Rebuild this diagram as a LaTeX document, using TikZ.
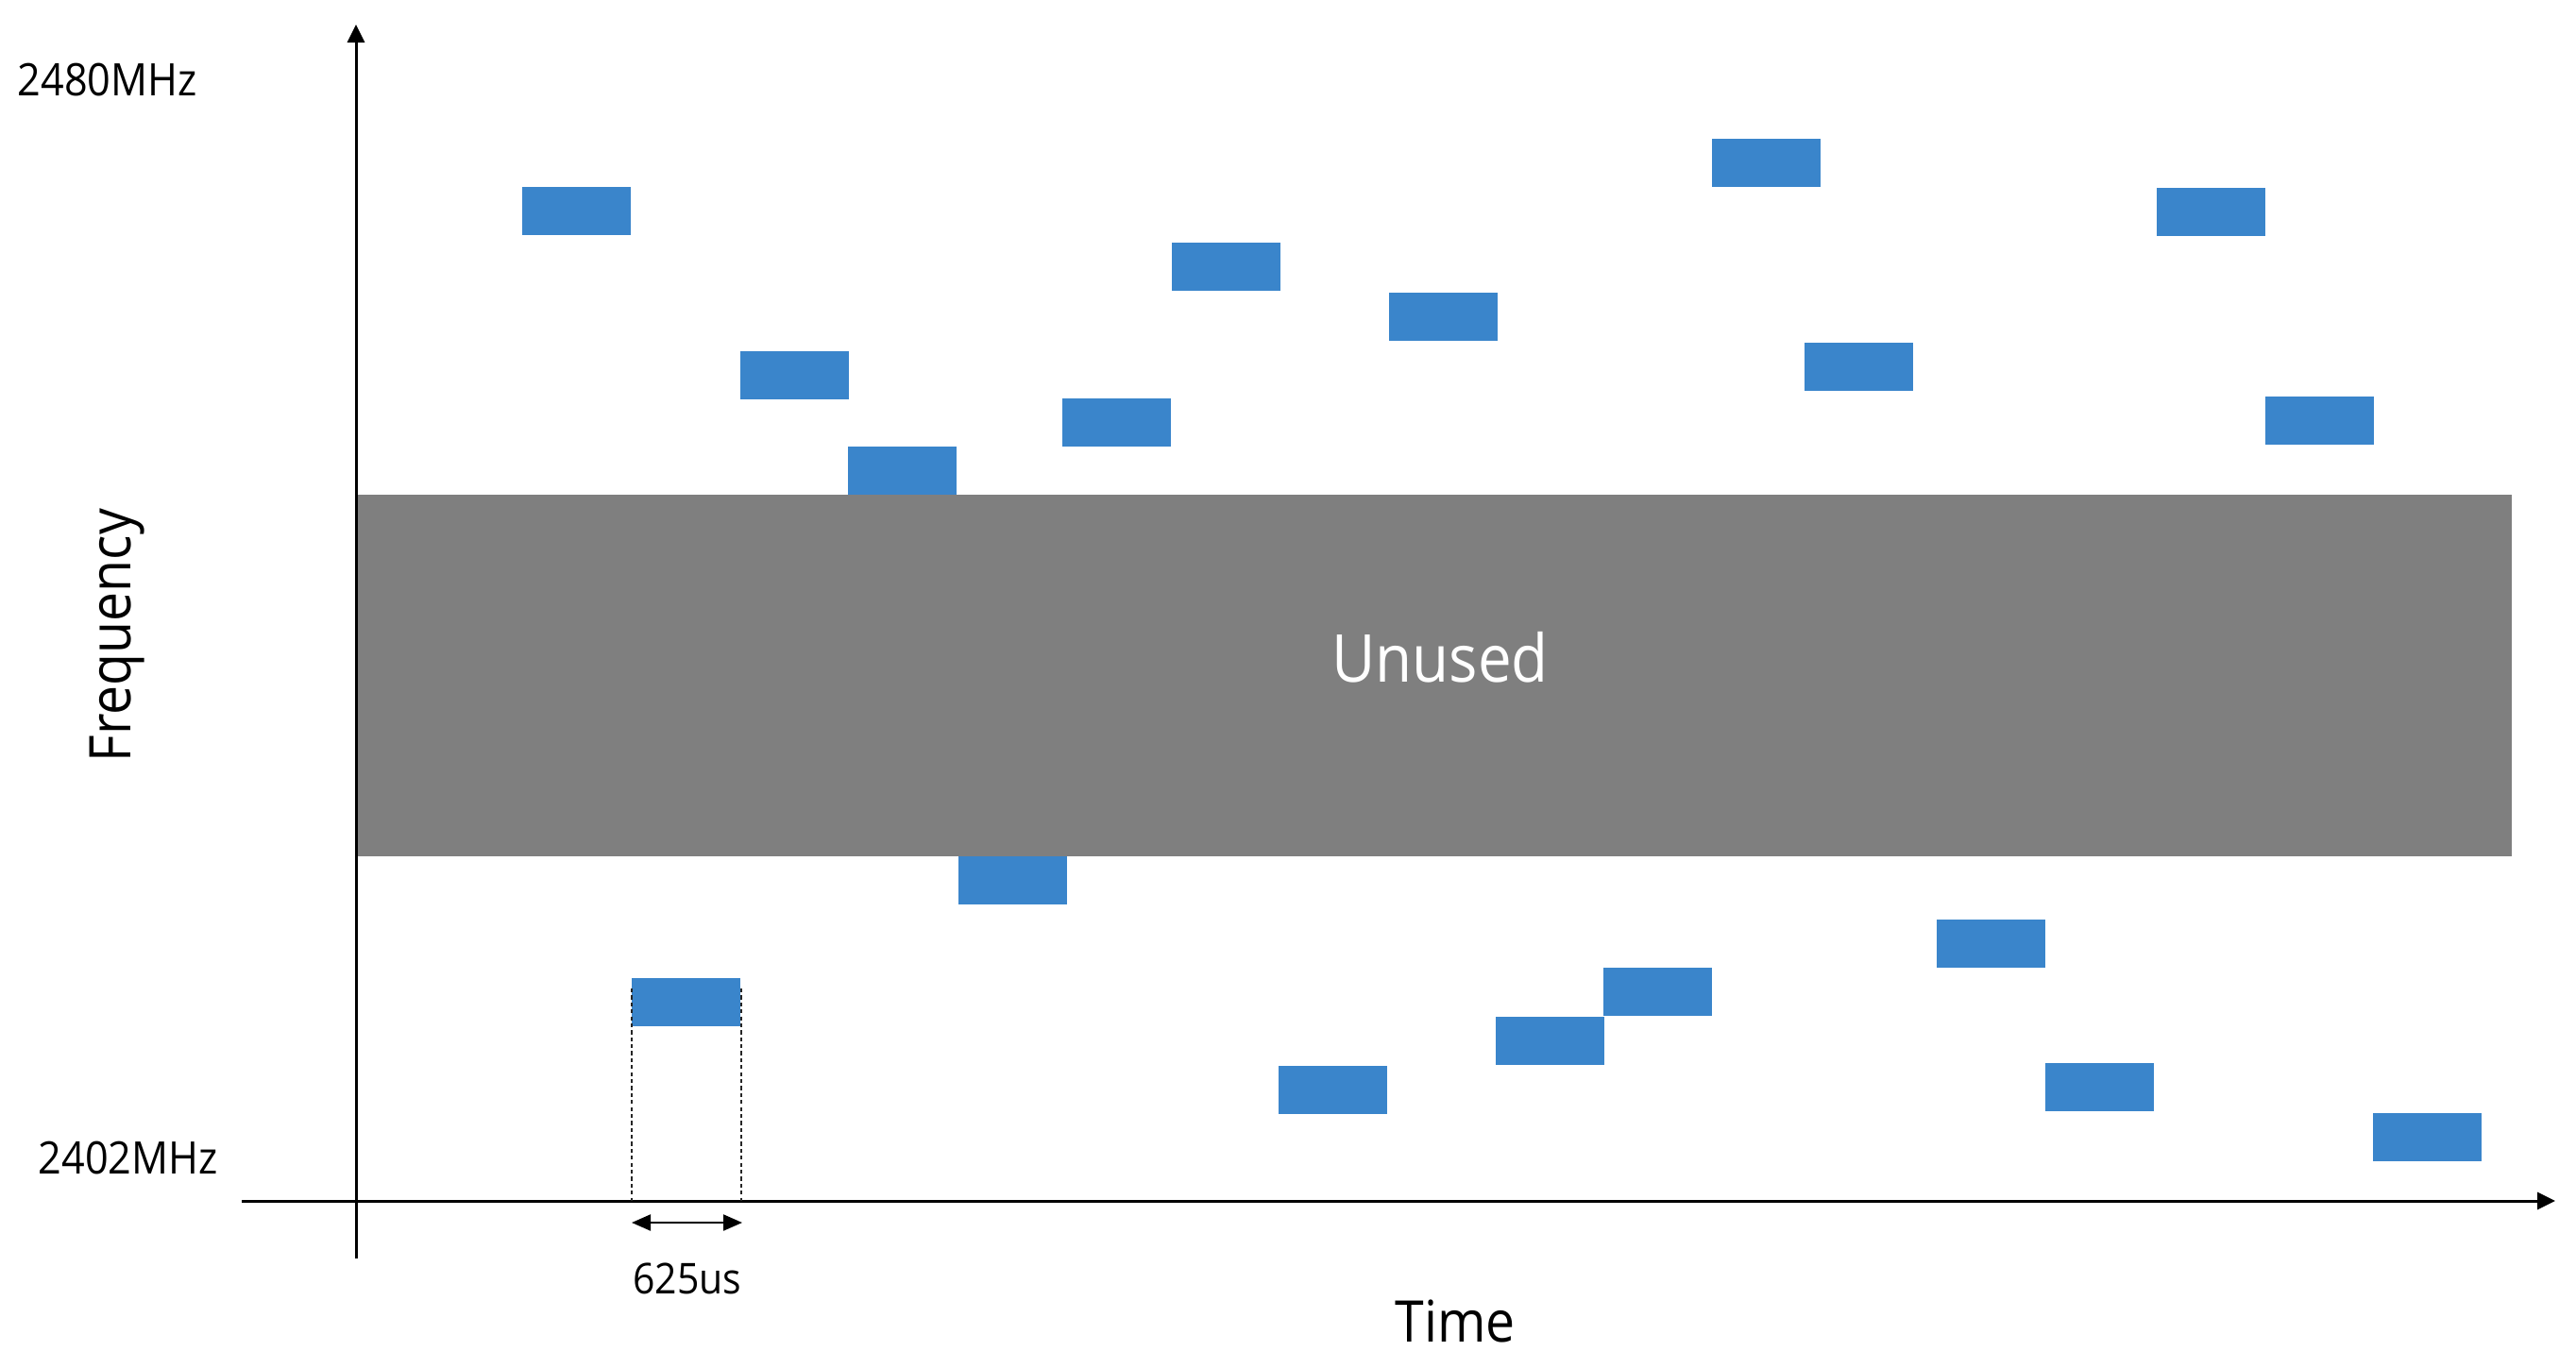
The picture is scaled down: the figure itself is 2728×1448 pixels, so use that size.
\documentclass[tikz,border=0pt]{standalone}
\usepackage{fontspec}
\setmainfont[FakeStretch=0.91]{Open Sans}
\usetikzlibrary{arrows.meta}
\definecolor{hopblue}{RGB}{58,133,203}
\definecolor{bandgray}{RGB}{127,127,127}
\tikzset{
  hop/.style={fill=hopblue, draw=none, minimum width=1.15cm, minimum height=0.51cm, inner sep=0pt, anchor=north west},
  band/.style={fill=bandgray, draw=none, inner sep=0pt, anchor=north west},
  axis/.style={line width=0.85pt, -{Triangle[length=0.19cm,width=0.18cm]}},
  guide/.style={line width=0.4pt, dash pattern=on 1.2pt off 0.9pt, black!85},
  span/.style={line width=0.6pt, {Triangle[length=0.2cm,width=0.17cm]}-{Triangle[length=0.2cm,width=0.17cm]}},
  lbl/.style={inner sep=0pt, font=\fontsize{13.5pt}{16pt}\selectfont},
  big/.style={inner sep=0pt, font=\fontsize{17.3pt}{20pt}\selectfont}
}
\begin{document}
\begin{tikzpicture}[x=0.01cm,y=-0.01cm]
\useasboundingbox (0,0) rectangle (2728,1448);
% unused band
\node[band, minimum width=22.805cm, minimum height=3.825cm] (band) at (377.5,523.5) {};
\node[inner sep=0pt, text=white, anchor=base, font=\fontsize{19.9pt}{24pt}\selectfont] (unused) at (1525,722) {Unused};
% hops
\node[hop] (h1) at (552,197) {};
\node[hop] (h2) at (783,371) {};
\node[hop] (h3) at (897,472) {};
\node[hop] (h4) at (1014,906) {};
\node[hop] (h5) at (668,1035) {};
\node[hop] (h6) at (1124,421) {};
\node[hop] (h7) at (1240,256) {};
\node[hop] (h8) at (1353,1128) {};
\node[hop] (h9) at (1470,309) {};
\node[hop] (h10) at (1583,1076) {};
\node[hop] (h11) at (1697,1024) {};
\node[hop] (h12) at (1812,146) {};
\node[hop] (h13) at (1910,362) {};
\node[hop] (h14) at (2050,973) {};
\node[hop] (h15) at (2165,1125) {};
\node[hop] (h16) at (2283,198) {};
\node[hop] (h17) at (2398,419) {};
\node[hop] (h18) at (2512,1178) {};
% axes
\coordinate (ybot) at (377,1333);
\coordinate (ytop) at (377,26);
\coordinate (xleft) at (256,1272);
\coordinate (xright) at (2706,1272);
\draw[axis] (ybot) -- (ytop);
\draw[axis] (xleft) -- (xright);
% slot guides
\coordinate (g1t) at (669,1047);
\coordinate (g1b) at (669,1272);
\coordinate (g2t) at (785,1047);
\coordinate (g2b) at (785,1272);
\draw[guide] (g1t) -- (g1b);
\draw[guide] (g2t) -- (g2b);
\coordinate (s1) at (669,1295);
\coordinate (s2) at (786,1295);
\draw[span] (s1) -- (s2);
% labels
\node[lbl, anchor=base west] (fmax) at (18,101) {2480MHz};
\node[lbl, anchor=base west] (fmin) at (40,1243) {2402MHz};
\node[lbl, anchor=base, font=\fontsize{12.8pt}{15pt}\selectfont] (slot) at (728,1370) {625us};
\node[big, anchor=base] (time) at (1541,1421) {Time};
\node[big, anchor=base, rotate=90] (freq) at (138,673) {Frequency};
\end{tikzpicture}
\end{document}
